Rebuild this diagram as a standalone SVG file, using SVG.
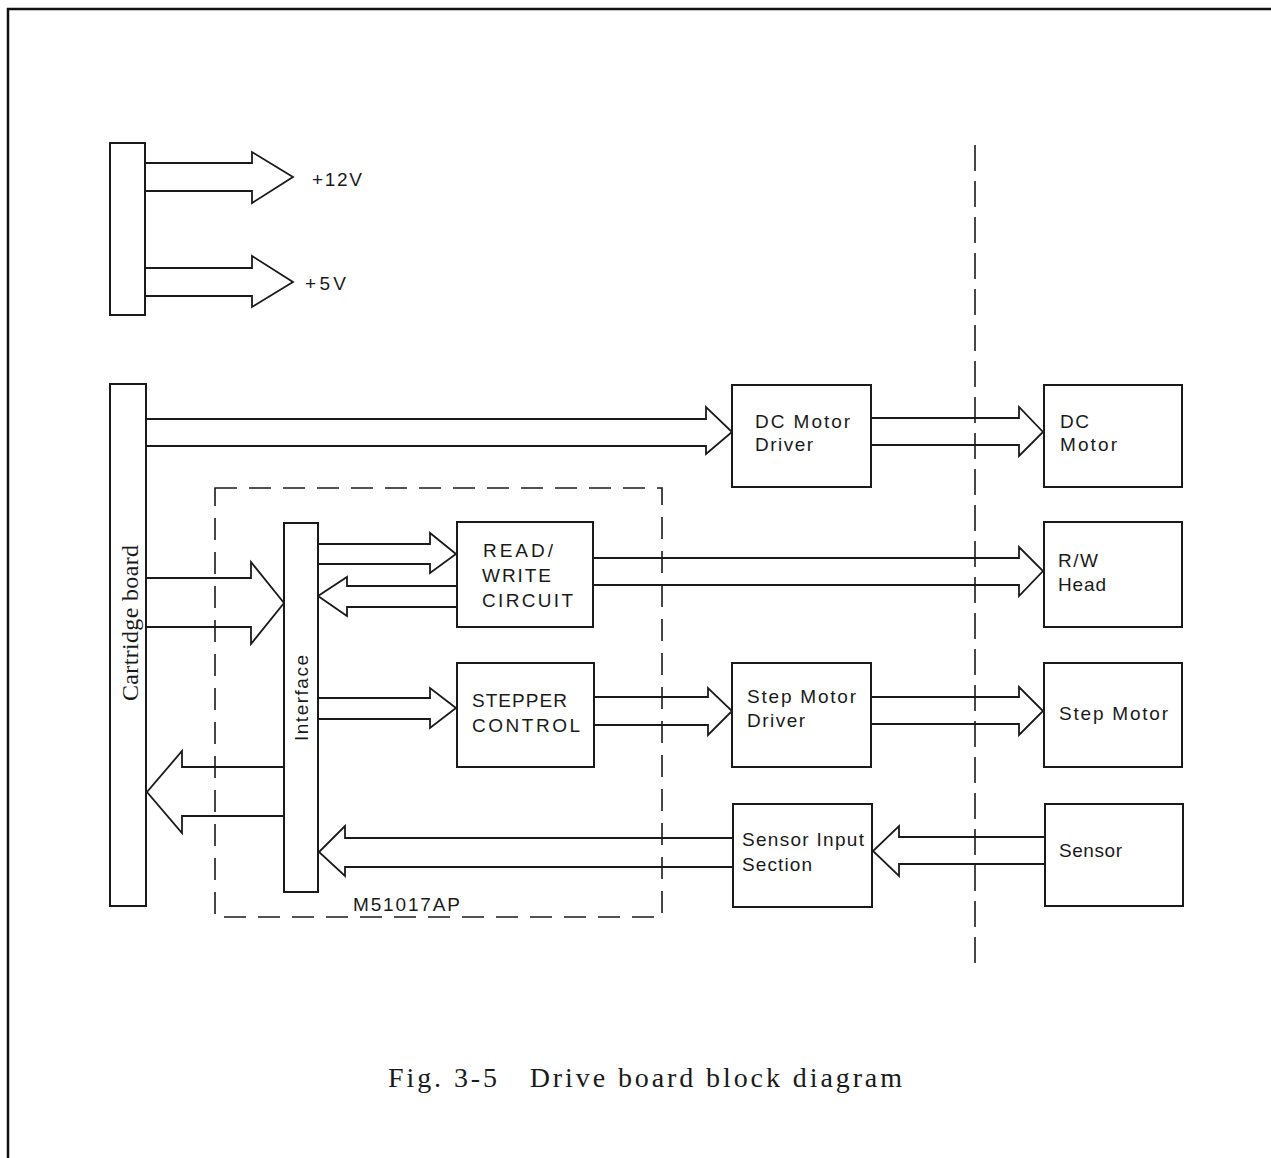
<svg xmlns="http://www.w3.org/2000/svg" width="1271" height="1158" viewBox="0 0 1271 1158">
<style>
.box{fill:#fff;stroke:#1a1a1a;stroke-width:2}
.ar{fill:none;stroke:#1a1a1a;stroke-width:1.8;stroke-linejoin:miter}
.lb{font-family:"Liberation Sans","DejaVu Sans",sans-serif;font-size:19px;fill:#1a1a1a}
.sf{font-family:"Liberation Serif","DejaVu Serif",serif;fill:#1a1a1a}
.dash{fill:none;stroke:#1a1a1a;stroke-width:1.6;stroke-dasharray:22 12}
</style>
<rect width="1271" height="1158" fill="#fff"/>
<path d="M8 1158 V9 H1271" fill="none" stroke="#111" stroke-width="2.5"/>
<g id="boundary">
<line class="dash" x1="975" y1="145" x2="975" y2="970" style="stroke-dasharray:26 10"/>
</g>
<g id="m51017ap">
<rect class="dash" x="215" y="488" width="447" height="429"/>
<text class="lb" x="353" y="911" textLength="107" lengthAdjust="spacing">M51017AP</text>
</g>
<g id="connectors">
<path class="ar" d="M146 163 H252 V152 L293 177 L252 203 V191 H146"/>
<path class="ar" d="M146 268 H252 V256 L293 282 L252 307 V296 H146"/>
<path class="ar" d="M146 419 H706 V407 L732 432 L706 454 V446 H146"/>
<path class="ar" d="M871 418 H1019 V407 L1043 432 L1019 456 V445 H871"/>
<path class="ar" d="M146 578 H251 V562 L284 603 L251 644 V627 H146"/>
<path class="ar" d="M318 544 H430 V533 L456 554 L430 573 V564 H318"/>
<path class="ar" d="M457 586 H347 V577 L318 596 L347 616 V607 H457"/>
<path class="ar" d="M593 558 H1019 V547 L1043 571 L1019 596 V585 H593"/>
<path class="ar" d="M318 698 H430 V688 L456 708 L430 728 V719 H318"/>
<path class="ar" d="M594 697 H708 V688 L732 711 L708 735 V725 H594"/>
<path class="ar" d="M871 697 H1019 V687 L1043 711 L1019 735 V724 H871"/>
<path class="ar" d="M284 767 H182 V751 L147 792 L182 833 V816 H284"/>
<path class="ar" d="M733 838 H345 V826 L319 852 L345 876 V867 H733"/>
<path class="ar" d="M1045 837 H899 V826 L873 851 L899 876 V864 H1045"/>
</g>
<g id="power">
<rect class="box" x="110" y="143" width="35" height="172"/>
<text class="lb" x="312" y="186" textLength="50" lengthAdjust="spacing">+12V</text>
<text class="lb" x="305" y="290" textLength="41" lengthAdjust="spacing">+5V</text>
</g>
<g id="cartridge">
<rect class="box" x="110" y="384" width="36" height="522"/>
<text class="sf" font-size="24" transform="translate(138 701) rotate(-90)" textLength="156" lengthAdjust="spacing">Cartridge board</text>
</g>
<g id="interface">
<rect class="box" x="284" y="523" width="34" height="369"/>
<text class="lb" font-size="17" transform="translate(308 741) rotate(-90)" textLength="86" lengthAdjust="spacing">Interface</text>
</g>
<g id="rwcircuit">
<rect class="box" x="457" y="522" width="136" height="105"/>
<text class="lb" x="483" y="557" textLength="70" lengthAdjust="spacing">READ/</text>
<text class="lb" x="482" y="582" textLength="69" lengthAdjust="spacing">WRITE</text>
<text class="lb" x="482" y="607" textLength="91" lengthAdjust="spacing">CIRCUIT</text>
</g>
<g id="stepper">
<rect class="box" x="457" y="663" width="137" height="104"/>
<text class="lb" x="472" y="707" textLength="95" lengthAdjust="spacing">STEPPER</text>
<text class="lb" x="472" y="732" textLength="108" lengthAdjust="spacing">CONTROL</text>
</g>
<g id="dcdriver">
<rect class="box" x="732" y="385" width="139" height="102"/>
<text class="lb" x="755" y="428" textLength="95" lengthAdjust="spacing">DC Motor</text>
<text class="lb" x="755" y="451" textLength="58" lengthAdjust="spacing">Driver</text>
</g>
<g id="stepdriver">
<rect class="box" x="732" y="663" width="139" height="104"/>
<text class="lb" x="747" y="703" textLength="109" lengthAdjust="spacing">Step Motor</text>
<text class="lb" x="747" y="727" textLength="58" lengthAdjust="spacing">Driver</text>
</g>
<g id="sensorinput">
<rect class="box" x="733" y="804" width="139" height="103"/>
<text class="lb" x="742" y="846" textLength="122" lengthAdjust="spacing">Sensor Input</text>
<text class="lb" x="742" y="871" textLength="70" lengthAdjust="spacing">Section</text>
</g>
<g id="dcmotor">
<rect class="box" x="1044" y="385" width="138" height="102"/>
<text class="lb" x="1060" y="428" textLength="29" lengthAdjust="spacing">DC</text>
<text class="lb" x="1060" y="451" textLength="57" lengthAdjust="spacing">Motor</text>
</g>
<g id="rwhead">
<rect class="box" x="1044" y="522" width="138" height="105"/>
<text class="lb" x="1058" y="567" textLength="40" lengthAdjust="spacing">R/W</text>
<text class="lb" x="1058" y="591" textLength="48" lengthAdjust="spacing">Head</text>
</g>
<g id="stepmotor">
<rect class="box" x="1044" y="663" width="138" height="104"/>
<text class="lb" x="1059" y="720" textLength="109" lengthAdjust="spacing">Step Motor</text>
</g>
<g id="sensor">
<rect class="box" x="1045" y="804" width="138" height="102"/>
<text class="lb" x="1059" y="857" textLength="63" lengthAdjust="spacing">Sensor</text>
</g>
<text class="sf" font-size="28" x="388" y="1087" textLength="514" lengthAdjust="spacing" xml:space="preserve">Fig. 3-5   Drive board block diagram</text>
</svg>
